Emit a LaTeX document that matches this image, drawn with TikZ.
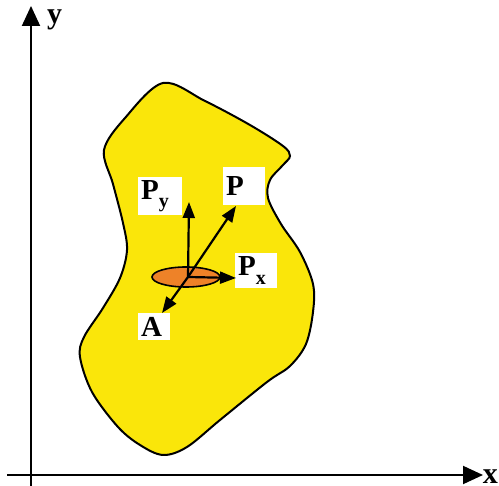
\documentclass[tikz,border=0pt]{standalone}
\usepackage{fontspec}
\setmainfont{Liberation Serif}
\usetikzlibrary{arrows.meta}
\definecolor{blobyellow}{RGB}{250,230,10}
\definecolor{spotorange}{RGB}{238,130,40}
\newcommand{\subx}[1]{\raisebox{-0.3em}{\fontsize{20}{22}\selectfont #1}}
\begin{document}
\begin{tikzpicture}[x=1pt,y=-1pt,
  axis/.style={line width=2pt,-{Triangle[length=20pt,width=18pt]}},
  force/.style={line width=2.2pt,-{Triangle[length=16pt,width=12pt]}},
  lbl/.style={fill=white,anchor=north west,inner xsep=3pt,inner ysep=0pt,align=left,
    font=\fontsize{29}{31}\selectfont\bfseries},
  axlbl/.style={inner sep=0pt,font=\fontsize{30}{32}\selectfont\bfseries}]
\useasboundingbox (0,0) rectangle (499,486);
% blob
\draw[line width=2pt,fill=blobyellow] plot[smooth cycle,tension=0.55] coordinates {
 (163,83) (205,101) (250,125) (283,146) (290,156) (283,165) (270,180) (268,198)
 (281,224) (300,252) (313,284) (313,312) (306,344) (290,366) (267,382)
 (220,420) (187,447) (163,455) (140,445) (118,427) (92,392) (80,357) (84,337)
 (103,308) (120,278) (127,250) (123,223) (113,184) (104,150) (125,118)};
% axes
\coordinate (yb) at (31,486);
\coordinate (yt) at (31,6);
\coordinate (xb) at (7,475);
\coordinate (xt) at (483,475);
\draw[axis] (yb) -- (yt);
\draw[axis] (xb) -- (xt);
\node[axlbl,anchor=west] (ylab) at (47,20) {y};
\node[axlbl,anchor=east] (xlab) at (498,477) {x};
% spot
\draw[line width=1.6pt,fill=spotorange] (186,277) ellipse [x radius=34pt,y radius=10pt];
\coordinate (o) at (188,277);
% labels
\node[lbl,text width=38pt,minimum height=38pt] (py) at (138,177) {P\subx{y}};
\node[lbl,text width=36pt,minimum height=38pt] (p) at (223,167) {P};
\node[lbl,text width=36pt,minimum height=35pt] (px) at (235,253) {P\subx{x}};
\node[lbl,text width=26pt,minimum height=27pt] (a) at (138,313) {A};
% forces
\coordinate (pyt) at (189,202);
\coordinate (pt) at (236,206);
\coordinate (pxt) at (236,278);
\coordinate (at) at (162,313);
\draw[force] (o) -- (pyt);
\draw[force] (o) -- (pt);
\draw[force] (o) -- (pxt);
\draw[force] (o) -- (at);
\end{tikzpicture}
\end{document}
